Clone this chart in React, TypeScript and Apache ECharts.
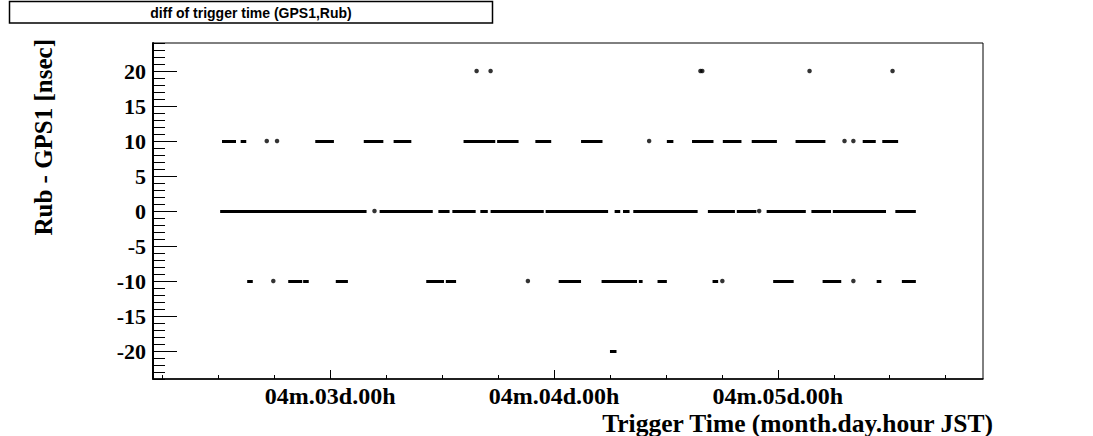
import React, { useEffect, useRef } from "react";
import * as echarts from "echarts";

// Hours relative to 04m.03d.00h JST
const xMin = -19;
const xMax = 70;
const yMin = -24;
const yMax = 24;

const majorXTicks = [0, 24, 48];
const minorXTicks = [-18, -12, -6, 6, 12, 18, 30, 36, 42, 54, 60, 66];
const majorYTicks = [-20, -15, -10, -5, 0, 5, 10, 15, 20];
const minorYTicks = [
  -24, -23, -22, -21, -19, -18, -17, -16, -14, -13, -12, -11, -9, -8, -7, -6, -4, -3, -2, -1,
  1, 2, 3, 4, 6, 7, 8, 9, 11, 12, 13, 14, 16, 17, 18, 19, 21, 22, 23, 24,
];

// runs of continuous trigger points [start hour, end hour]
const runs0: [number, number][] = [
  [-11.8, 3.9], [5.3, 11.0], [11.6, 12.8], [13.1, 15.6], [16.1, 16.9], [17.2, 22.9],
  [23.1, 29.8], [30.5, 31.1], [31.4, 32.1], [32.5, 39.4], [40.5, 43.4], [43.6, 45.7],
  [46.8, 51.0], [51.6, 53.7], [53.9, 59.6], [60.6, 62.8],
];
const dots0 = [4.75, 46.0];

const runs10: [number, number][] = [
  [-11.6, -10.1], [-9.6, -9.0], [-1.6, 0.4], [3.6, 5.7], [6.8, 8.7], [14.3, 17.7],
  [17.9, 20.2], [22.0, 23.7], [26.9, 29.2], [36.1, 36.8], [38.8, 41.1], [42.1, 44.1],
  [45.2, 47.9], [49.9, 53.1], [57.1, 58.5], [59.2, 60.9],
];
const dots10 = [-6.8, -5.7, 34.2, 55.15, 56.1];

const dots20 = [15.7, 17.2, 39.7, 39.9, 51.4, 60.3];

const runsM10: [number, number][] = [
  [-8.9, -8.3], [-4.5, -3.0], [-2.9, -2.3], [0.6, 1.9], [10.3, 12.2], [12.4, 13.5],
  [24.5, 26.9], [29.1, 32.9], [33.1, 33.5], [35.1, 36.1], [41.0, 41.6], [47.5, 49.7],
  [52.8, 54.8], [58.6, 59.1], [61.3, 62.8],
];
const dotsM10 = [-6.1, 21.2, 42.05, 56.1];

const runsM20: [number, number][] = [[30.0, 30.7]];

const SERIF = "'Liberation Serif', 'Times New Roman', serif";
const SANS = "'Liberation Sans', Arial, sans-serif";

export default function App() {
  const ref = useRef<HTMLDivElement>(null);
  useEffect(() => {
    if (!ref.current) return;
    const chart = echarts.init(ref.current, null, { renderer: "svg" });

    const lineData: any[] = [];
    const addRuns = (runs: [number, number][], y: number) =>
      runs.forEach(([a, b]) => lineData.push({ coords: [[a, y], [b, y]] }));
    addRuns(runs0, 0);
    addRuns(runs10, 10);
    addRuns(runsM10, -10);
    addRuns(runsM20, -20);

    const dotData: number[][] = [
      ...dots0.map((x) => [x, 0]),
      ...dots10.map((x) => [x, 10]),
      ...dots20.map((x) => [x, 20]),
      ...dotsM10.map((x) => [x, -10]),
    ];

    const dayLabel = (v: number) => {
      const d = 3 + Math.round(v / 24);
      return `04m.${String(d).padStart(2, "0")}d.00h`;
    };

    chart.setOption({
      animation: false,
      backgroundColor: "#ffffff",
      grid: {
        left: 153,
        right: 110,
        top: 43,
        height: 336,
        show: true,
        borderColor: "#000",
        borderWidth: 1,
        backgroundColor: "transparent",
      },
      xAxis: [
        {
          type: "value",
          min: xMin,
          max: xMax,
          position: "bottom",
          axisLine: { show: true, onZero: false, lineStyle: { color: "#000", width: 1.5 } },
          axisTick: {
            show: true,
            inside: true,
            length: 9,
            customValues: majorXTicks,
            lineStyle: { color: "#000", width: 1 },
          },
          axisLabel: {
            show: true,
            customValues: majorXTicks,
            formatter: dayLabel,
            color: "#000",
            fontFamily: SERIF,
            fontWeight: "bold",
            fontSize: 24,
            margin: 5,
          },
          splitLine: { show: false },
        },
        {
          type: "value",
          min: xMin,
          max: xMax,
          position: "bottom",
          axisLine: { show: false, onZero: false },
          axisTick: {
            show: true,
            inside: true,
            length: 4,
            customValues: minorXTicks,
            lineStyle: { color: "#000", width: 1 },
          },
          axisLabel: { show: false },
          splitLine: { show: false },
        },
      ],
      yAxis: [
        {
          type: "value",
          min: yMin,
          max: yMax,
          position: "left",
          axisLine: { show: true, onZero: false, lineStyle: { color: "#000", width: 2 } },
          axisTick: {
            show: true,
            inside: true,
            length: 24,
            customValues: majorYTicks,
            lineStyle: { color: "#000", width: 1 },
          },
          axisLabel: {
            show: true,
            customValues: majorYTicks,
            color: "#000",
            fontFamily: SERIF,
            fontWeight: "bold",
            fontSize: 22,
            margin: 7,
          },
          splitLine: { show: false },
        },
        {
          type: "value",
          min: yMin,
          max: yMax,
          position: "left",
          axisLine: { show: false, onZero: false },
          axisTick: {
            show: true,
            inside: true,
            length: 12,
            customValues: minorYTicks,
            lineStyle: { color: "#000", width: 1 },
          },
          axisLabel: { show: false },
          splitLine: { show: false },
        },
      ],
      graphic: [
        {
          type: "rect",
          shape: { x: 9.5, y: 1.5, width: 483, height: 21.5 },
          style: { fill: "#fff", stroke: "#000", lineWidth: 1.5 },
          z: 10,
        },
        {
          type: "text",
          x: 251,
          y: 12.5,
          style: {
            text: "diff of trigger time (GPS1,Rub)",
            fill: "#000",
            font: `bold 14px ${SANS}`,
            align: "center",
            verticalAlign: "middle",
          },
          z: 11,
        },
        {
          type: "text",
          x: 993,
          y: 436,
          style: {
            text: "Trigger Time (month.day.hour JST)",
            fill: "#000",
            font: `bold 25.5px ${SERIF}`,
            align: "right",
            verticalAlign: "bottom",
          },
        },
        {
          type: "text",
          x: 43,
          y: 39,
          rotation: Math.PI / 2,
          style: {
            text: "Rub - GPS1 [nsec]",
            fill: "#000",
            font: `bold 25px ${SERIF}`,
            align: "right",
            verticalAlign: "middle",
          },
        },
      ],
      series: [
        {
          type: "lines",
          coordinateSystem: "cartesian2d",
          xAxisIndex: 0,
          yAxisIndex: 0,
          polyline: false,
          silent: true,
          lineStyle: { color: "#000", width: 3, opacity: 1, cap: "butt" },
          data: lineData,
        },
        {
          type: "scatter",
          xAxisIndex: 0,
          yAxisIndex: 0,
          symbol: "circle",
          symbolSize: 4.5,
          silent: true,
          itemStyle: { color: "#000" },
          data: dotData,
        },
      ],
    });
    return () => chart.dispose();
  }, []);
  return (
    <div
      ref={ref}
      style={{ position: "fixed", left: 0, top: 0, width: 1093, height: 436 }}
    />
  );
}
